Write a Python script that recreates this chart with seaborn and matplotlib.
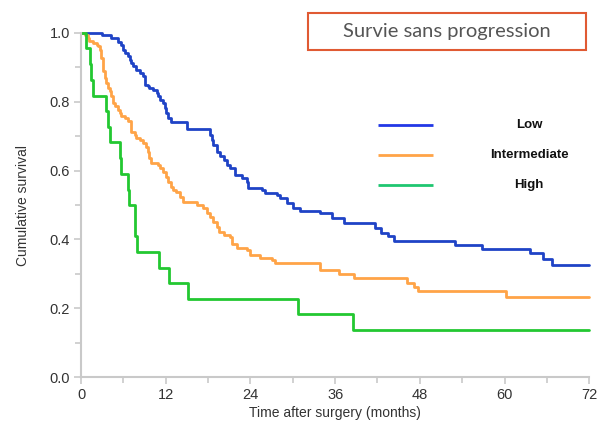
import matplotlib
matplotlib.use("Agg")
import matplotlib.pyplot as plt
from matplotlib.patches import Rectangle
from matplotlib.ticker import MultipleLocator
import numpy as np
import pandas as pd
import seaborn as sns

# Kaplan-Meier step points: time of each drop (months) and survival after it
low_t = [0, 3.0, 4.3, 5.2, 5.7, 5.95, 6.2, 6.7, 6.9, 7.1, 7.4, 7.85, 8.3, 8.8, 9.0,
         9.5, 9.7, 10.2, 10.7, 10.9, 11.15, 11.6, 11.9, 12.1, 12.3, 12.8, 15.0,
         18.3, 18.5, 18.75, 19.2, 19.7, 20.2, 20.65, 21.1, 21.8, 22.8, 23.5, 23.7,
         25.6, 26.1, 27.7, 28.2, 29.2, 30.1, 31.0, 33.8, 35.6, 37.3, 41.6, 42.5,
         43.5, 44.4, 53.0, 56.8, 63.6, 65.4, 66.8, 72]
low_s = [1.0, 0.993, 0.985, 0.973, 0.966, 0.951, 0.942, 0.932, 0.922, 0.913, 0.903,
         0.893, 0.884, 0.874, 0.850, 0.845, 0.840, 0.835, 0.825, 0.816, 0.806, 0.797,
         0.782, 0.767, 0.753, 0.741, 0.720, 0.703, 0.689, 0.674, 0.655, 0.642, 0.631,
         0.616, 0.607, 0.587, 0.578, 0.568, 0.549, 0.544, 0.534, 0.529, 0.520, 0.505,
         0.492, 0.484, 0.476, 0.461, 0.447, 0.432, 0.420, 0.410, 0.395, 0.384, 0.371,
         0.360, 0.343, 0.327, 0.327]

int_t = [0, 0.5, 1.0, 1.2, 1.7, 2.2, 2.4, 2.65, 2.9, 3.1, 3.36, 3.6, 3.8, 4.07, 4.3,
         4.5, 4.8, 5.2, 5.5, 5.7, 6.2, 6.7, 7.1, 7.6, 7.85, 8.3, 8.8, 9.25, 9.5, 9.7,
         9.95, 10.9, 11.15, 11.6, 12.1, 12.3, 12.8, 13.0, 13.5, 14.0, 14.5, 16.4,
         17.3, 17.8, 18.3, 18.75, 19.2, 19.5, 20.2, 21.1, 21.35, 22.1, 23.5, 24.0,
         25.4, 27.0, 27.5, 33.9, 36.5, 38.7, 46.2, 47.2, 47.7, 60.2, 72]
int_s = [1.0, 0.995, 0.985, 0.976, 0.971, 0.966, 0.961, 0.951, 0.927, 0.889, 0.869,
         0.855, 0.840, 0.831, 0.816, 0.797, 0.787, 0.777, 0.767, 0.758, 0.753, 0.743,
         0.713, 0.703, 0.694, 0.689, 0.679, 0.669, 0.655, 0.636, 0.621, 0.616, 0.607,
         0.597, 0.582, 0.568, 0.553, 0.544, 0.539, 0.524, 0.510, 0.500, 0.490, 0.476,
         0.466, 0.451, 0.437, 0.422, 0.413, 0.408, 0.388, 0.374, 0.369, 0.355, 0.345,
         0.340, 0.330, 0.311, 0.299, 0.287, 0.274, 0.262, 0.251, 0.233, 0.233]

high_t = [0, 0.7, 1.3, 1.4, 1.7, 3.5, 3.8, 4.1, 5.5, 5.7, 6.6, 6.8, 7.6, 7.7, 8.0,
          11.0, 12.4, 15.2, 30.8, 38.5, 72]
high_s = [1.0, 0.955, 0.909, 0.864, 0.818, 0.773, 0.727, 0.682, 0.636, 0.591, 0.545,
          0.500, 0.455, 0.409, 0.364, 0.318, 0.273, 0.227, 0.182, 0.136, 0.136]

groups = ["Low", "Intermediate", "High"]
palette = {"Low": "#1f43c6", "Intermediate": "#ffa447", "High": "#23c831"}
legend_colors = {"Low": "#2238e6", "Intermediate": "#ffa447", "High": "#1fc670"}

x_ticks = [0, 12, 24, 36, 48, 60, 72]
y_ticks = [0.0, 0.2, 0.4, 0.6, 0.8, 1.0]

frames = []
for name, t, s in [("Low", low_t, low_s), ("Intermediate", int_t, int_s), ("High", high_t, high_s)]:
    frames.append(pd.DataFrame({"time": t, "survival": s, "group": name}))
df = pd.concat(frames, ignore_index=True)

sns.set_style("white")
plt.rcParams["font.family"] = ["Liberation Sans", "DejaVu Sans"]

fig = plt.figure(figsize=(6.0, 4.23), dpi=100)
ax = fig.add_axes([0.135, 0.1087, 0.847, 0.8133])

for name in groups:
    sub = df[df["group"] == name]
    sns.lineplot(data=sub, x="time", y="survival", ax=ax, color=palette[name],
                 drawstyle="steps-post", estimator=None, sort=False,
                 linewidth=2.0, clip_on=False, legend=False)

ax.set_xlim(0, 72)
ax.set_ylim(0, 1.0)
ax.set_xticks(x_ticks)
ax.set_yticks(y_ticks)
ax.set_yticklabels([f"{v:.1f}" for v in y_ticks])
ax.xaxis.set_minor_locator(MultipleLocator(6))
ax.yaxis.set_minor_locator(MultipleLocator(0.1))

grey = "#c9c9c9"
for side in ["top", "right"]:
    ax.spines[side].set_visible(False)
for side in ["left", "bottom"]:
    ax.spines[side].set_color(grey)
    ax.spines[side].set_linewidth(1.5)
ax.tick_params(which="major", direction="out", length=5, width=1.2, color=grey,
               labelsize=10.5, labelcolor="#333333", pad=3)
ax.tick_params(which="minor", direction="out", length=4, width=1.2, color=grey)
ax.tick_params(axis="x", which="both", bottom=True)
ax.tick_params(axis="y", which="both", left=True)

ax.set_xlabel("Time after surgery (months)", fontsize=10, color="#333333", labelpad=3)
ax.set_ylabel("Cumulative survival", fontsize=10, color="#333333", labelpad=14)

# Hand-drawn legend: line sample on the left, bold centred label on the right
for i, name in enumerate(groups):
    yy = 0.732 - i * 0.0875
    ax.plot([0.585, 0.693], [yy, yy], transform=ax.transAxes,
            color=legend_colors[name], linewidth=2.0, solid_capstyle="butt")
    ax.text(0.882, yy, name, transform=ax.transAxes, ha="center", va="center",
            fontsize=9.5, fontweight="bold", color="#111111")

# Boxed title in the upper right
box = Rectangle((308 / 600, 1 - 50 / 423), 278 / 600, 37 / 423, transform=fig.transFigure,
                facecolor="white", edgecolor="#e05a33", linewidth=1.5)
fig.patches.append(box)
fig.text(447 / 600, 1 - 32 / 423, "Survie sans progression", ha="center", va="center",
         fontsize=14.5, color="#555555", family=["Lato", "DejaVu Sans"])

fig.savefig("out.png", dpi=100)
